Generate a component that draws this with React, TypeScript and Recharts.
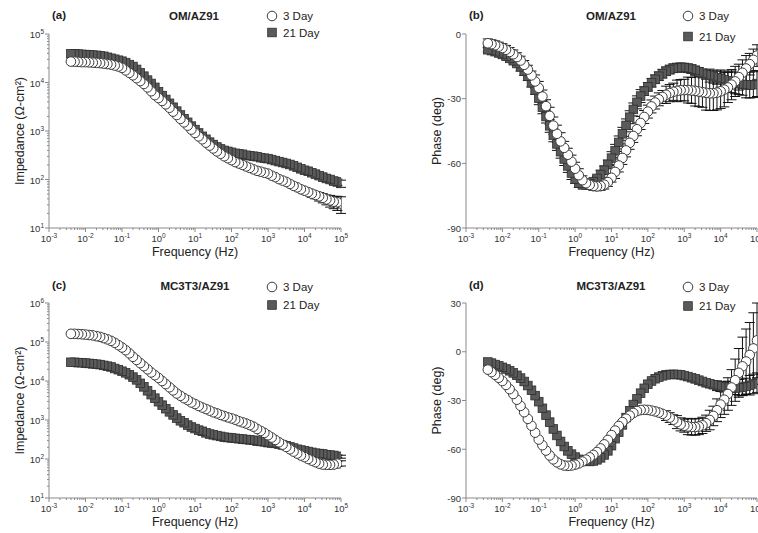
import React from 'react'
import { ScatterChart, Scatter, XAxis, YAxis, ErrorBar } from 'recharts'

const FONT = '"Liberation Sans", Arial, Helvetica, sans-serif'
const AXIS = '#8a8a8a'
const TEXT = '#333'

// EIS sweep, high to low frequency (Hz)
const freqHz = [
  100000, 79430, 63100, 50120, 39810, 31620, 25120, 19950, 15850, 12590,
  10000, 7943, 6310, 5012, 3981, 3162, 2512, 1995, 1585, 1259,
  1000, 794.3, 631, 501.2, 398.1, 316.2, 251.2, 199.5, 158.5, 125.9,
  100, 79.43, 63.1, 50.12, 39.81, 31.62, 25.12, 19.95, 15.85, 12.59,
  10, 7.943, 6.31, 5.012, 3.981, 3.162, 2.512, 1.995, 1.585, 1.259,
  1, 0.7943, 0.631, 0.5012, 0.3981, 0.3162, 0.2512, 0.1995, 0.1585, 0.1259,
  0.1, 0.07943, 0.0631, 0.05012, 0.03981, 0.03162, 0.02512, 0.01995, 0.01585, 0.01259,
  0.01, 0.007943, 0.00631, 0.005012, 0.003981,
]

// (a) OM/AZ91 impedance, ohm-cm2
const omZ3 = [
  32, 34, 35, 37, 39, 42, 45, 48, 51, 55,
  59, 63, 69, 74, 81, 89, 95, 102, 112, 120,
  132, 138, 145, 151, 162, 174, 186, 200, 214, 229,
  251, 275, 302, 339, 380, 437, 501, 575, 676, 776,
  912, 1070, 1290, 1510, 1780, 2140, 2510, 3020, 3550, 4170,
  4790, 5500, 6610, 7940, 9330, 10700, 12300, 14100, 15800, 17800,
  20000, 21400, 22400, 23400, 24000, 24500, 25100, 25400, 25700, 26000,
  26300, 26300, 26600, 26900, 27000,
]
const omZ21 = [
  83, 89, 93, 100, 105, 112, 120, 129, 138, 148,
  155, 166, 178, 191, 204, 214, 224, 234, 245, 257,
  269, 275, 282, 295, 302, 309, 316, 331, 339, 347,
  363, 380, 398, 427, 468, 525, 589, 676, 776, 912,
  1070, 1260, 1510, 1780, 2140, 2570, 3090, 3720, 4470, 5370,
  6460, 7940, 9550, 11200, 13500, 15800, 18600, 21400, 23400, 25700,
  27500, 28800, 30200, 31600, 33100, 34700, 35500, 36300, 36700, 37200,
  37600, 38000, 38500, 38900, 39000,
]
const omZ3Err = [12, 11, 10, 10, 9, 9, 9, 8, 8, 8, 8, 7, 7, 6, 6, 6, 5, 5, 5, 5]
const omZ21Err = [14, 13, 13, 12, 12, 11, 11, 10, 10, 10, 9, 9, 8, 8, 7]

// (b) OM/AZ91 phase, deg
const omP3 = [
  -10, -12, -14, -16, -18, -20, -22, -23.5, -24.8, -25.8,
  -26.6, -27.2, -27.5, -27.5, -27.3, -27.0, -26.7, -26.4, -26.2, -26.0,
  -26.0, -26.1, -26.4, -26.8, -27.4, -28.2, -29.2, -30.3, -31.8, -33.6,
  -36.0, -38.5, -41.3, -44.2, -47.3, -50.5, -54.0, -57.5, -61.0, -64.0,
  -66.7, -68.7, -69.9, -70.5, -70.7, -70.5, -70.0, -69.2, -67.8, -65.5,
  -62.5, -59.2, -56.0, -52.8, -49.8, -46.3, -42.5, -38.0, -33.5, -29.0,
  -25.0, -22.0, -19.2, -16.5, -14.3, -12.3, -10.7, -9.4, -8.3, -7.3,
  -6.5, -5.8, -5.2, -4.7, -4.3,
]
const omP21 = [
  -23.0, -23.5, -23.7, -23.6, -23.4, -23.1, -22.7, -22.2, -21.7, -21.2,
  -20.7, -20.3, -19.8, -19.3, -18.9, -18.3, -17.6, -16.9, -16.3, -15.9,
  -15.6, -15.5, -15.6, -15.9, -16.5, -17.3, -18.4, -19.6, -21.0, -22.6,
  -24.5, -26.5, -28.8, -31.7, -35.0, -38.6, -42.4, -46.3, -50.3, -54.2,
  -57.6, -60.5, -63.2, -65.2, -67.0, -68.5, -69.5, -70.0, -70.0, -69.2,
  -67.3, -64.5, -61.2, -58.0, -54.6, -51.0, -47.0, -42.6, -38.3, -34.0,
  -29.8, -26.0, -22.6, -19.6, -17.2, -15.2, -13.7, -12.4, -11.3, -10.3,
  -9.5, -8.8, -8.2, -7.7, -7.3,
]
const omP3Err = [
  5, 5, 5, 6, 6, 6, 7, 7, 7, 8,
  8, 8, 8, 8, 8, 7, 7, 7, 6, 6,
  5, 5, 5, 4, 4, 4, 3, 3, 3, 3,
  3, 3, 3, 3, 3, 3, 3, 3, 3, 3,
  2, 2, 2, 2, 2, 2, 2, 2, 2, 3,
  3, 3, 3, 3, 4, 4, 4, 4, 3, 3,
  3, 3, 2, 2, 2, 2, 2, 2, 2, 2,
  2, 2, 2, 2, 2,
]
const omP21Err = [
  6, 6, 6, 6, 5, 5, 5, 5, 4, 4,
  4, 3, 3, 3, 2, 2, 2, 2, 2, 2,
  2, 2, 2, 2, 2, 2, 2, 2, 2, 2,
  2, 2, 3, 3, 3, 3, 3, 3, 3, 3,
  3, 2, 2, 2, 1, 1, 1, 1, 1, 2,
  2, 3, 3, 3, 3, 3, 3, 3, 3, 3,
  3, 2, 2, 2, 2, 2, 1, 1, 1, 1,
  1, 1, 1, 1, 1,
]

// (c) MC3T3/AZ91 impedance, ohm-cm2
const mcZ3 = [
  78, 76, 72, 71, 71, 72, 76, 83, 91, 100,
  112, 123, 138, 155, 178, 204, 234, 269, 309, 355,
  407, 468, 525, 589, 676, 741, 813, 871, 933, 1020,
  1100, 1170, 1260, 1350, 1480, 1580, 1740, 1910, 2090, 2290,
  2570, 2820, 3240, 3630, 4170, 4790, 5750, 6920, 8320, 10000,
  12000, 14100, 16600, 20000, 24000, 28800, 34700, 41700, 51300, 61700,
  72400, 83200, 95500, 107000, 117000, 126000, 135000, 141000, 148000, 151000,
  155000, 158000, 160000, 162000, 162000,
]
const mcZ21 = [
  115, 117, 123, 126, 129, 135, 138, 141, 148, 155,
  162, 170, 178, 191, 204, 219, 229, 240, 251, 257,
  263, 275, 282, 288, 302, 309, 316, 324, 331, 339,
  347, 355, 363, 380, 398, 417, 437, 468, 513, 550,
  603, 661, 741, 851, 955, 1120, 1350, 1620, 1950, 2400,
  2950, 3630, 4470, 5620, 7080, 8710, 10700, 12600, 14500, 16200,
  17800, 19500, 20900, 22900, 24000, 25100, 26300, 26900, 27500, 28200,
  28800, 29500, 29500, 30200, 30200,
]
const mcZ3Err = [12, 12, 11, 11, 10, 10, 9, 9, 8, 8]
const mcZ21Err = [10, 10, 10, 9, 9, 8, 8, 7]

// (d) MC3T3/AZ91 phase, deg
const mcP3 = [
  7, 2, -2, -6, -9, -13, -17.5, -22, -26, -29.5,
  -32.5, -36, -39.5, -42, -44, -45.3, -46.0, -46.3, -46.3, -46.0,
  -45.5, -44.7, -43.3, -41.8, -40.5, -39.3, -38.2, -37.4, -36.7, -36.2,
  -35.8, -35.7, -35.9, -36.5, -37.7, -39.3, -41.2, -43.3, -45.7, -48.5,
  -51.3, -54.3, -57.0, -59.5, -61.7, -63.5, -65.0, -66.4, -67.6, -68.7,
  -69.5, -70.0, -70.2, -70.0, -69.3, -68.0, -66.2, -63.8, -60.8, -57.5,
  -54.0, -49.8, -45.5, -41.3, -37.2, -33.3, -29.5, -26.0, -23.0, -20.4,
  -18.0, -16.0, -14.2, -12.5, -11.0,
]
const mcP21 = [
  -19.0, -19.8, -20.6, -21.3, -21.8, -22.1, -22.3, -22.3, -22.1, -21.8,
  -21.4, -20.9, -20.3, -19.7, -19.1, -18.3, -17.5, -16.7, -16.0, -15.3,
  -14.7, -14.2, -14.0, -13.9, -14.0, -14.2, -14.8, -15.6, -16.6, -18.0,
  -20.0, -22.5, -25.5, -29.0, -32.5, -36.3, -40.5, -45.0, -49.5, -53.5,
  -57.8, -61.0, -63.5, -65.3, -66.5, -67.2, -67.5, -67.4, -67.0, -66.2,
  -64.8, -63.0, -61.0, -58.3, -55.2, -51.5, -47.5, -43.3, -39.0, -34.8,
  -30.7, -27.0, -23.7, -20.8, -18.3, -16.2, -14.5, -13.0, -11.7, -10.6,
  -9.6, -8.7, -7.9, -7.0, -6.3,
]
const mcP3Err = [23, 22, 20, 20, 18, 15, 13, 11, 10, 9, 8, 7, 6, 6, 5, 5, 5, 5, 5, 5, 4, 4, 4, 3, 3, 3]
const mcP21Err = [6, 6, 6, 5, 5, 5, 4, 4, 4, 3, 3, 3, 2, 2]

// axis ticks
const freqDecades = [0.001, 0.01, 0.1, 1, 10, 100, 1000, 10000, 100000]
const zDecadesOM = [10, 100, 1000, 10000, 100000]
const zDecadesMC = [10, 100, 1000, 10000, 100000, 1000000]
const phaseTicksOM = [-90, -60, -30, 0]
const phaseTicksMC = [-90, -60, -30, 0, 30]

function withMinor(decades: number[]) {
  const out: number[] = []
  decades.forEach((d, i) => {
    out.push(d)
    if (i < decades.length - 1) for (let m = 2; m <= 9; m++) out.push(d * m)
  })
  return out
}

const freqTicks = withMinor(freqDecades)

type Pt = { f: number; v: number; e: number }
const rows = (values: number[], errs: number[]): Pt[] =>
  freqHz.map((f, i) => ({ f, v: values[i], e: errs[i] ?? 0 }))

const isDecade = (v: number) => {
  const l = Math.log10(v)
  return Math.abs(l - Math.round(l)) < 1e-6
}

function LogXTick(props: any) {
  const { x, y, payload } = props
  const v = payload.value
  if (!isDecade(v)) return <line x1={x} x2={x} y1={y} y2={y + 2} stroke={AXIS} />
  const e = Math.round(Math.log10(v))
  return (
    <g>
      <line x1={x} x2={x} y1={y} y2={y + 4} stroke={AXIS} />
      <text x={x} y={y + 14} textAnchor="middle" fontSize={9.5} fill={TEXT} fontFamily={FONT}>
        10<tspan dy={-4} fontSize={6.5}>{e}</tspan>
      </text>
    </g>
  )
}

function LogYTick(props: any) {
  const { x, y, payload } = props
  const v = payload.value
  if (!isDecade(v)) return <line x1={x - 2} x2={x} y1={y} y2={y} stroke={AXIS} />
  const e = Math.round(Math.log10(v))
  return (
    <g>
      <line x1={x - 4} x2={x} y1={y} y2={y} stroke={AXIS} />
      <text x={x - 5} y={y + 4} textAnchor="end" fontSize={9.5} fill={TEXT} fontFamily={FONT}>
        10<tspan dy={-4} fontSize={6.5}>{e}</tspan>
      </text>
    </g>
  )
}

function PhaseYTick(props: any) {
  const { x, y, payload } = props
  return (
    <g>
      <line x1={x - 4} x2={x} y1={y} y2={y} stroke={AXIS} />
      <text x={x - 5} y={y + 3.5} textAnchor="end" fontSize={9.5} fill={TEXT} fontFamily={FONT}>
        {payload.value}
      </text>
    </g>
  )
}

// x-axis title sits under the tick labels, centred on the plot
function FreqLabel(props: any) {
  const { viewBox } = props
  return (
    <text x={viewBox.x + viewBox.width / 2} y={viewBox.y + 28} textAnchor="middle" fontSize={12.5} fill="#222" fontFamily={FONT}>
      Frequency (Hz)
    </text>
  )
}

const Circle = (p: any) => (
  <circle cx={p.cx} cy={p.cy} r={4.8} fill="#fff" stroke="#3a3a3a" strokeWidth={1} />
)
const Square = (p: any) => (
  <rect x={p.cx - 4.3} y={p.cy - 4.3} width={8.6} height={8.6} fill="#5a5a5a" stroke="#2e2e2e" strokeWidth={0.8} />
)

interface PanelProps {
  left: number
  top: number
  width: number
  height: number
  right: number
  yAxisWidth: number
  yLabel: string
  yLabelOffset: number
  logY: boolean
  yDomain: [number, number]
  yTicks: number[]
  day3: Pt[]
  day21: Pt[]
}

function Panel(p: PanelProps) {
  return (
    <div style={{ position: 'absolute', left: p.left, top: p.top }}>
      <ScatterChart width={p.width} height={p.height} margin={{ top: 34, right: p.right, bottom: 0, left: 0 }}>
        <XAxis
          dataKey="f"
          type="number"
          scale="log"
          domain={[0.001, 100000]}
          ticks={freqTicks}
          interval={0}
          allowDataOverflow
          height={37}
          tickSize={0}
          tickMargin={0}
          tickLine={false}
          tick={<LogXTick />}
          axisLine={{ stroke: AXIS }}
          label={{ content: <FreqLabel /> }}
        />
        <YAxis
          dataKey="v"
          type="number"
          scale={p.logY ? 'log' : 'linear'}
          domain={p.yDomain}
          ticks={p.yTicks}
          interval={0}
          allowDataOverflow
          width={p.yAxisWidth}
          tickSize={0}
          tickMargin={0}
          tickLine={false}
          tick={p.logY ? <LogYTick /> : <PhaseYTick />}
          axisLine={{ stroke: AXIS }}
          label={{
            value: p.yLabel,
            angle: -90,
            position: 'insideLeft',
            offset: p.yLabelOffset,
            fill: '#222',
            fontSize: 12.5,
            fontFamily: FONT,
            style: { textAnchor: 'middle' },
          }}
        />
        <Scatter data={p.day21} shape={Square} isAnimationActive={false}>
          <ErrorBar dataKey="e" direction="y" width={5} stroke="#111" strokeWidth={1} />
        </Scatter>
        <Scatter data={p.day3} shape={Circle} isAnimationActive={false}>
          <ErrorBar dataKey="e" direction="y" width={5} stroke="#111" strokeWidth={1} />
        </Scatter>
      </ScatterChart>
    </div>
  )
}

function Header({ tag, tagX, title, titleX, base, legX, l1, l2 }: any) {
  return (
    <g fontFamily={FONT}>
      <text x={tagX} y={base + 18.5} fontSize={11.5} fontWeight="bold" fill="#222">{tag}</text>
      <text x={titleX} y={base + 19.5} fontSize={11.5} fontWeight="bold" fill="#222" textAnchor="middle">{title}</text>
      <circle cx={legX} cy={base + l1} r={4.8} fill="#fff" stroke="#3a3a3a" />
      <text x={legX + 11} y={base + l1 + 4} fontSize={11.5} fill="#222">3 Day</text>
      <rect x={legX - 4.3} y={base + l2 - 4.3} width={8.6} height={8.6} fill="#5a5a5a" stroke="#2e2e2e" strokeWidth={0.8} />
      <text x={legX + 11} y={base + l2 + 4} fontSize={11.5} fill="#222">21 Day</text>
    </g>
  )
}

export default function App() {
  const zLabel = 'Impedance (\u03A9-cm\u00B2)'
  return (
    <div style={{ position: 'fixed', left: 0, top: 0, width: 758, height: 533, overflow: 'hidden', background: '#fff' }}>
      <Panel left={0} top={0} width={360} height={265} right={19} yAxisWidth={49} yLabel={zLabel} yLabelOffset={20}
        logY yDomain={[10, 100000]} yTicks={withMinor(zDecadesOM)}
        day3={rows(omZ3, omZ3Err)} day21={rows(omZ21, omZ21Err)} />
      <Panel left={378} top={0} width={399} height={265} right={20} yAxisWidth={88} yLabel="Phase (deg)" yLabelOffset={59}
        logY={false} yDomain={[-90, 0]} yTicks={phaseTicksOM}
        day3={rows(omP3, omP3Err)} day21={rows(omP21, omP21Err)} />
      <Panel left={0} top={269} width={360} height={266} right={19} yAxisWidth={49} yLabel={zLabel} yLabelOffset={20}
        logY yDomain={[10, 1000000]} yTicks={withMinor(zDecadesMC)}
        day3={rows(mcZ3, mcZ3Err)} day21={rows(mcZ21, mcZ21Err)} />
      <Panel left={378} top={269} width={399} height={266} right={20} yAxisWidth={88} yLabel="Phase (deg)" yLabelOffset={59}
        logY={false} yDomain={[-90, 30]} yTicks={phaseTicksMC}
        day3={rows(mcP3, mcP3Err)} day21={rows(mcP21, mcP21Err)} />
      <svg width={758} height={533} style={{ position: 'absolute', left: 0, top: 0, pointerEvents: 'none' }}>
        <Header tag="(a)" tagX={52} title="OM/AZ91" titleX={194} base={0} legX={272} l1={16} l2={32.5} />
        <Header tag="(b)" tagX={469} title="OM/AZ91" titleX={611} base={0} legX={688} l1={16} l2={36.5} />
        <Header tag="(c)" tagX={52} title="MC3T3/AZ91" titleX={195} base={270} legX={272} l1={17} l2={35} />
        <Header tag="(d)" tagX={469} title="MC3T3/AZ91" titleX={611} base={270} legX={688} l1={17} l2={36} />
      </svg>
    </div>
  )
}
